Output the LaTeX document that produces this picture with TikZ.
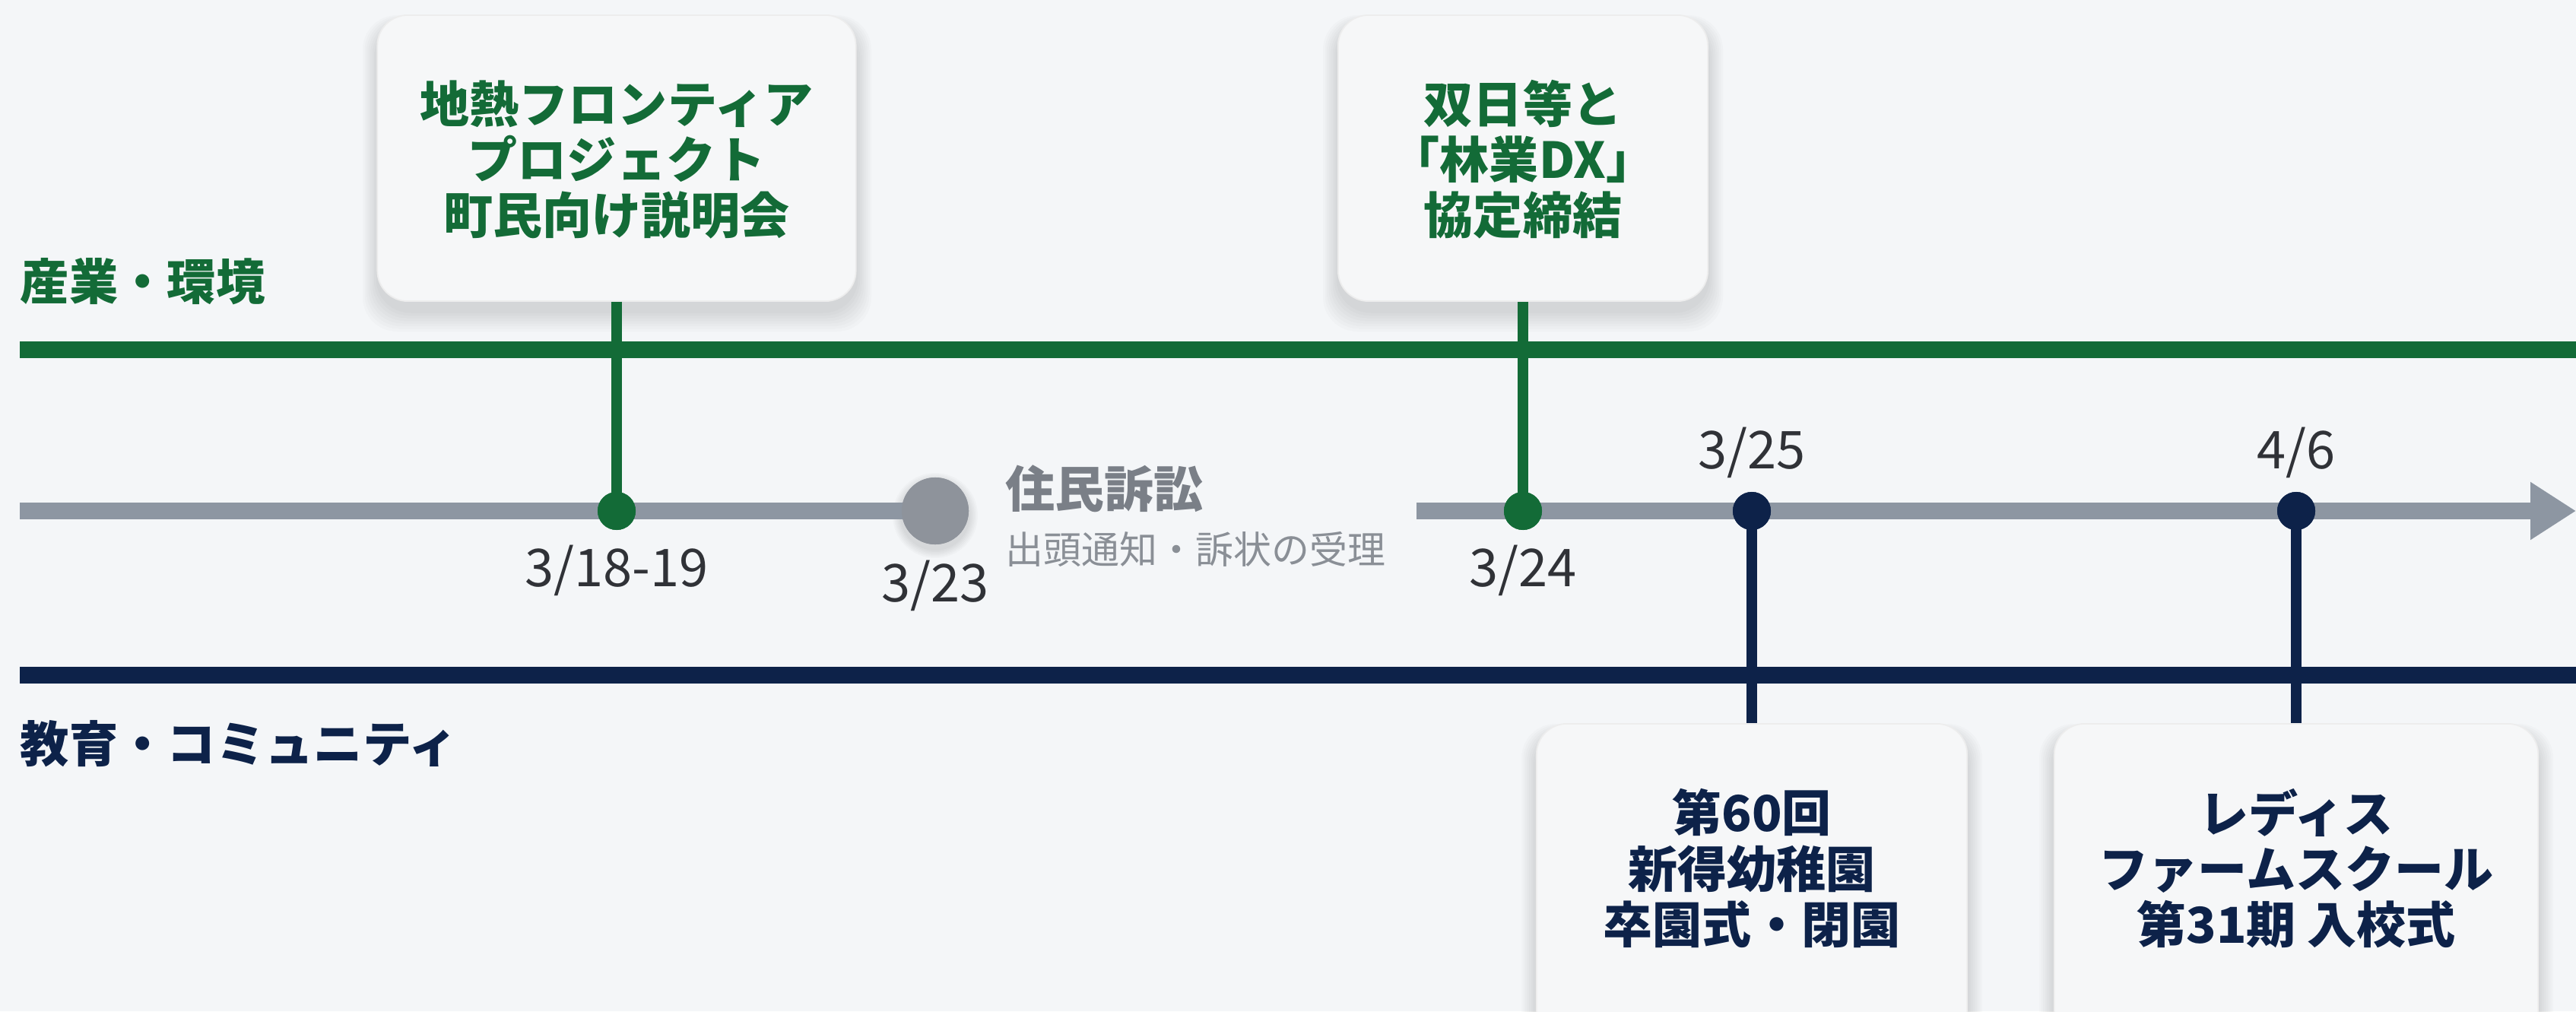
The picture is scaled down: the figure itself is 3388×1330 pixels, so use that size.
\documentclass[tikz,border=0pt]{standalone}
\usepackage{fontspec}
\setmainfont{Noto Sans CJK JP}
\usetikzlibrary{arrows.meta}
\definecolor{grn}{HTML}{136B37}
\definecolor{nvy}{HTML}{0D2249}
\definecolor{tlc}{HTML}{8D96A2}
\definecolor{bgc}{HTML}{F4F6F8}
\definecolor{boxf}{HTML}{F6F7F8}
\definecolor{gtxt}{HTML}{7A7F87}
\definecolor{gsub}{HTML}{8A8F96}
\definecolor{dtxt}{HTML}{303237}
\definecolor{gcirc}{HTML}{8E939B}
\newcommand\mysoftshadow[4]{%
  \foreach \i in {1,...,8}{
    \fill[black, opacity=0.016, rounded corners=0.45cm]
      (#1-\i*2.5, #2-\i*1.5+12) rectangle (#3+\i*2.5, #4+\i*3.5+12);
  }}
\begin{document}
\begin{tikzpicture}[x=0.01cm,y=-0.01cm,
  cardbox/.style={draw=black!7, line width=0.5pt, fill=boxf, rounded corners=0.4cm, inner sep=0},
  cardtxt/.style={align=center, inner sep=0, font=\bfseries\fontsize{18.5}{20.8}\selectfont},
  catlbl/.style={anchor=west, inner sep=0, font=\bfseries\fontsize{18.3}{22}\selectfont},
  datelbl/.style={inner sep=0, text=dtxt, font=\fontsize{19.5}{22}\selectfont},
  hline/.style={line width=6.3pt},
  stem/.style={line width=4.2pt},
  dotg/.style={circle, fill=grn, minimum size=0.5cm, inner sep=0},
  dotn/.style={circle, fill=nvy, minimum size=0.5cm, inner sep=0}]
\useasboundingbox (0,0) rectangle (3388,1330);
\fill[bgc] (0,0) rectangle (3388,1330);

% shadows of the cards
\mysoftshadow{497}{20}{1126}{396}
\mysoftshadow{1760}{20}{2246}{396}
\mysoftshadow{2021}{952}{2587}{1400}
\mysoftshadow{2702}{952}{3338}{1400}
\foreach \i in {1,...,6}{\fill[black, opacity=0.02] (1230,678) circle ({44+\i*2});}

% horizontal category lines
\coordinate (gl0) at (26,460);  \coordinate (gl1) at (3388,460);
\coordinate (nl0) at (26,888);  \coordinate (nl1) at (3388,888);
\draw[hline, grn] (gl0) -- (gl1);
\draw[hline, nvy] (nl0) -- (nl1);

% cards
\node[cardbox, minimum width=6.29cm, minimum height=3.76cm] (b1) at (811,208) {};
\node[cardbox, minimum width=4.86cm, minimum height=3.76cm] (b2) at (2003,208) {};
\node[cardbox, minimum width=5.66cm, minimum height=4.5cm] (b3) at (2304,1177) {};
\node[cardbox, minimum width=6.36cm, minimum height=4.5cm] (b4) at (3020,1177) {};

% main gray timeline
\coordinate (tl0) at (26,672);
\node[circle, fill=gcirc, minimum size=0.88cm, inner sep=0] (c323) at (1230,672) {};
\coordinate (tr0) at (1863,672);
\coordinate (tend) at (3388,672);
\draw[hline, tlc, line width=6pt] (tl0) -- (c323.center);
\node[circle, fill=gcirc, minimum size=0.88cm, inner sep=0] at (c323) {};
\draw[tlc, line width=6pt, -{Triangle[length=0.6cm,width=0.72cm]}] (tr0) -- (tend);

% event dots
\node[dotg] (d1) at (811,672) {};
\node[dotg] (d2) at (2003,672) {};
\node[dotn] (d3) at (2304,672) {};
\node[dotn] (d4) at (3020,672) {};

% stems
\draw[stem, grn] (b1.south) -- (d1.center);
\draw[stem, grn] (b2.south) -- (d2.center);
\draw[stem, nvy] (d3.center) -- (b3.north);
\draw[stem, nvy] (d4.center) -- (b4.north);
\node[dotg] at (d1) {};
\node[dotg] at (d2) {};
\node[dotn] at (d3) {};
\node[dotn] at (d4) {};

% card texts
\node[cardtxt, text=grn] (t1) at (811,210) {地熱フロンティア\\プロジェクト\\町民向け説明会};
\node[cardtxt, text=grn] (t2) at (2003,210) {双日等と\\「林業DX」\\協定締結};
\node[cardtxt, text=nvy] (t3) at (2304,1142) {第60回\\新得幼稚園\\卒園式・閉園};
\node[cardtxt, text=nvy] (t4) at (3020,1142) {レディス\\ファームスクール\\第31期 入校式};

% category labels
\node[catlbl, text=grn] (cat1) at (26,370) {産業・環境};
\node[catlbl, text=nvy] (cat2) at (26,978) {教育・コミュニティ};

% dates
\node[datelbl] (l1) at (811,750) {3/18-19};
\node[datelbl] (l2) at (1230,770) {3/23};
\node[datelbl] (l3) at (2003,750) {3/24};
\node[datelbl] (l4) at (2304,595) {3/25};
\node[datelbl] (l5) at (3020,595) {4/6};

% lawsuit label
\node[anchor=west, inner sep=0, text=gtxt, font=\bfseries\fontsize{18.5}{22}\selectfont] (ls) at (1322,643) {住民訴訟};
\node[anchor=west, inner sep=0, text=gsub, font=\fontsize{14.2}{17}\selectfont] (lss) at (1322,722) {出頭通知・訴状の受理};
\end{tikzpicture}
\end{document}
